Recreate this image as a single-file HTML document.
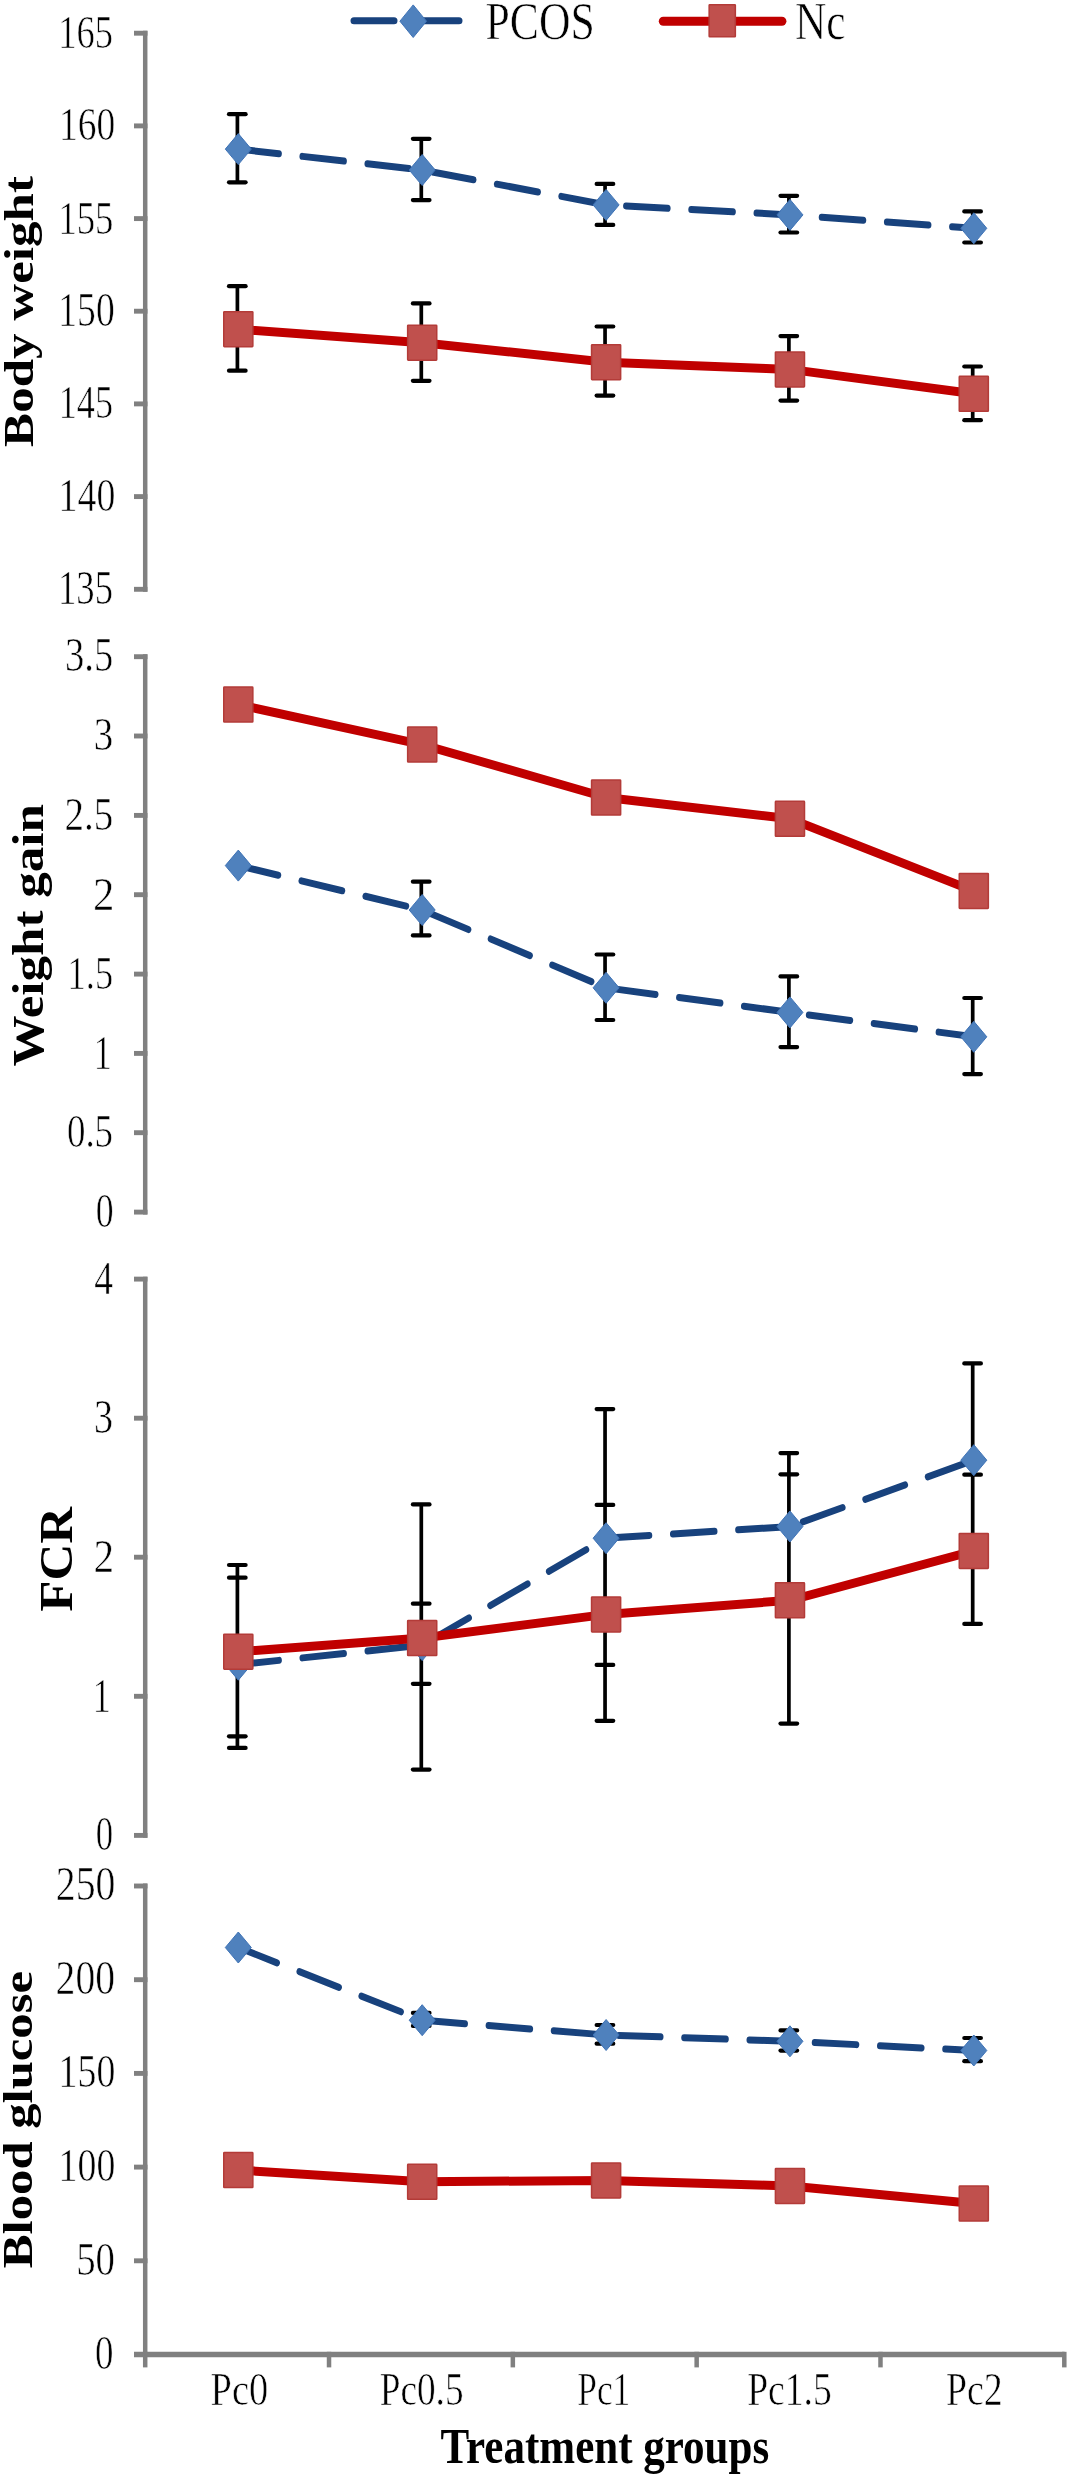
<!DOCTYPE html><html><head><meta charset="utf-8"><style>html,body{margin:0;padding:0;background:#fff;}svg{display:block;filter:blur(0.4px);}text{font-family:"Liberation Serif",serif;fill:#000;}text.t{stroke:#fff;stroke-width:0.5px;}</style></head><body>
<svg width="1071" height="2481" viewBox="0 0 1071 2481">
<rect width="1071" height="2481" fill="#fff"/>
<g stroke="#808080" stroke-width="4.5" stroke-linecap="butt" fill="none"><line x1="145.2" y1="30.75" x2="145.2" y2="591.75"/><line x1="134" y1="33.2" x2="147.45" y2="33.2" stroke-width="4.9"/><line x1="134" y1="125.9" x2="147.45" y2="125.9" stroke-width="4.9"/><line x1="134" y1="218.6" x2="147.45" y2="218.6" stroke-width="4.9"/><line x1="134" y1="311.2" x2="147.45" y2="311.2" stroke-width="4.9"/><line x1="134" y1="403.9" x2="147.45" y2="403.9" stroke-width="4.9"/><line x1="134" y1="496.6" x2="147.45" y2="496.6" stroke-width="4.9"/><line x1="134" y1="589.3" x2="147.45" y2="589.3" stroke-width="4.9"/><line x1="145.2" y1="654.25" x2="145.2" y2="1214.55"/><line x1="134" y1="656.7" x2="147.45" y2="656.7" stroke-width="4.9"/><line x1="134" y1="736" x2="147.45" y2="736" stroke-width="4.9"/><line x1="134" y1="815.4" x2="147.45" y2="815.4" stroke-width="4.9"/><line x1="134" y1="894.7" x2="147.45" y2="894.7" stroke-width="4.9"/><line x1="134" y1="974.1" x2="147.45" y2="974.1" stroke-width="4.9"/><line x1="134" y1="1053.4" x2="147.45" y2="1053.4" stroke-width="4.9"/><line x1="134" y1="1132.7" x2="147.45" y2="1132.7" stroke-width="4.9"/><line x1="134" y1="1212.1" x2="147.45" y2="1212.1" stroke-width="4.9"/><line x1="145.2" y1="1276.65" x2="145.2" y2="1837.85"/><line x1="134" y1="1279.1" x2="147.45" y2="1279.1" stroke-width="4.9"/><line x1="134" y1="1418.2" x2="147.45" y2="1418.2" stroke-width="4.9"/><line x1="134" y1="1557.2" x2="147.45" y2="1557.2" stroke-width="4.9"/><line x1="134" y1="1696.3" x2="147.45" y2="1696.3" stroke-width="4.9"/><line x1="134" y1="1835.4" x2="147.45" y2="1835.4" stroke-width="4.9"/><line x1="145.2" y1="1883.55" x2="145.2" y2="2356.95"/><line x1="134" y1="1886" x2="147.45" y2="1886" stroke-width="4.9"/><line x1="134" y1="1979.7" x2="147.45" y2="1979.7" stroke-width="4.9"/><line x1="134" y1="2073.4" x2="147.45" y2="2073.4" stroke-width="4.9"/><line x1="134" y1="2167.1" x2="147.45" y2="2167.1" stroke-width="4.9"/><line x1="134" y1="2260.8" x2="147.45" y2="2260.8" stroke-width="4.9"/><line x1="134" y1="2354.5" x2="147.45" y2="2354.5" stroke-width="4.9"/><line x1="134" y1="2354.4" x2="1064.6" y2="2354.4" stroke-width="5.5"/><line x1="145.2" y1="2351.8" x2="145.2" y2="2367.4"/><line x1="329.02" y1="2351.8" x2="329.02" y2="2367.4"/><line x1="512.84" y1="2351.8" x2="512.84" y2="2367.4"/><line x1="696.66" y1="2351.8" x2="696.66" y2="2367.4"/><line x1="880.48" y1="2351.8" x2="880.48" y2="2367.4"/><line x1="1064.3" y1="2351.8" x2="1064.3" y2="2367.4"/></g>
<g stroke="#000" stroke-width="3.7" fill="none"><line x1="237.4" y1="114.2" x2="237.4" y2="182.3"/><line x1="237.4" y1="286.2" x2="237.4" y2="370.7"/><line x1="229" y1="114.2" x2="245.6" y2="114.2" stroke-width="4.2" stroke-linecap="round"/><line x1="229" y1="182.3" x2="245.6" y2="182.3" stroke-width="4.2" stroke-linecap="round"/><line x1="229" y1="286.2" x2="245.6" y2="286.2" stroke-width="4.2" stroke-linecap="round"/><line x1="229" y1="370.7" x2="245.6" y2="370.7" stroke-width="4.2" stroke-linecap="round"/><line x1="421.3" y1="138.8" x2="421.3" y2="200.1"/><line x1="421.3" y1="303.4" x2="421.3" y2="380.8"/><line x1="412.9" y1="138.8" x2="429.5" y2="138.8" stroke-width="4.2" stroke-linecap="round"/><line x1="412.9" y1="200.1" x2="429.5" y2="200.1" stroke-width="4.2" stroke-linecap="round"/><line x1="412.9" y1="303.4" x2="429.5" y2="303.4" stroke-width="4.2" stroke-linecap="round"/><line x1="412.9" y1="380.8" x2="429.5" y2="380.8" stroke-width="4.2" stroke-linecap="round"/><line x1="605.05" y1="183.9" x2="605.05" y2="224.9"/><line x1="605.05" y1="326.5" x2="605.05" y2="395.6"/><line x1="596.65" y1="183.9" x2="613.25" y2="183.9" stroke-width="4.2" stroke-linecap="round"/><line x1="596.65" y1="224.9" x2="613.25" y2="224.9" stroke-width="4.2" stroke-linecap="round"/><line x1="596.65" y1="326.5" x2="613.25" y2="326.5" stroke-width="4.2" stroke-linecap="round"/><line x1="596.65" y1="395.6" x2="613.25" y2="395.6" stroke-width="4.2" stroke-linecap="round"/><line x1="788.9" y1="195.8" x2="788.9" y2="232.5"/><line x1="788.9" y1="336.1" x2="788.9" y2="400.6"/><line x1="780.5" y1="195.8" x2="797.1" y2="195.8" stroke-width="4.2" stroke-linecap="round"/><line x1="780.5" y1="232.5" x2="797.1" y2="232.5" stroke-width="4.2" stroke-linecap="round"/><line x1="780.5" y1="336.1" x2="797.1" y2="336.1" stroke-width="4.2" stroke-linecap="round"/><line x1="780.5" y1="400.6" x2="797.1" y2="400.6" stroke-width="4.2" stroke-linecap="round"/><line x1="972.7" y1="211.4" x2="972.7" y2="242.5"/><line x1="972.7" y1="366.5" x2="972.7" y2="420.2"/><line x1="964.3" y1="211.4" x2="980.9" y2="211.4" stroke-width="4.2" stroke-linecap="round"/><line x1="964.3" y1="242.5" x2="980.9" y2="242.5" stroke-width="4.2" stroke-linecap="round"/><line x1="964.3" y1="366.5" x2="980.9" y2="366.5" stroke-width="4.2" stroke-linecap="round"/><line x1="964.3" y1="420.2" x2="980.9" y2="420.2" stroke-width="4.2" stroke-linecap="round"/><line x1="421.3" y1="881.7" x2="421.3" y2="935.4"/><line x1="412.9" y1="881.7" x2="429.5" y2="881.7" stroke-width="4.2" stroke-linecap="round"/><line x1="412.9" y1="935.4" x2="429.5" y2="935.4" stroke-width="4.2" stroke-linecap="round"/><line x1="605.05" y1="954.5" x2="605.05" y2="1020"/><line x1="596.65" y1="954.5" x2="613.25" y2="954.5" stroke-width="4.2" stroke-linecap="round"/><line x1="596.65" y1="1020" x2="613.25" y2="1020" stroke-width="4.2" stroke-linecap="round"/><line x1="788.9" y1="976.4" x2="788.9" y2="1047.1"/><line x1="780.5" y1="976.4" x2="797.1" y2="976.4" stroke-width="4.2" stroke-linecap="round"/><line x1="780.5" y1="1047.1" x2="797.1" y2="1047.1" stroke-width="4.2" stroke-linecap="round"/><line x1="972.7" y1="998" x2="972.7" y2="1074.1"/><line x1="964.3" y1="998" x2="980.9" y2="998" stroke-width="4.2" stroke-linecap="round"/><line x1="964.3" y1="1074.1" x2="980.9" y2="1074.1" stroke-width="4.2" stroke-linecap="round"/><line x1="237.4" y1="1565" x2="237.4" y2="1747.9"/><line x1="229" y1="1565" x2="245.6" y2="1565" stroke-width="4.2" stroke-linecap="round"/><line x1="229" y1="1577.7" x2="245.6" y2="1577.7" stroke-width="4.2" stroke-linecap="round"/><line x1="229" y1="1736.3" x2="245.6" y2="1736.3" stroke-width="4.2" stroke-linecap="round"/><line x1="229" y1="1747.9" x2="245.6" y2="1747.9" stroke-width="4.2" stroke-linecap="round"/><line x1="421.3" y1="1504.4" x2="421.3" y2="1769.6"/><line x1="412.9" y1="1504.4" x2="429.5" y2="1504.4" stroke-width="4.2" stroke-linecap="round"/><line x1="412.9" y1="1603.7" x2="429.5" y2="1603.7" stroke-width="4.2" stroke-linecap="round"/><line x1="412.9" y1="1683.8" x2="429.5" y2="1683.8" stroke-width="4.2" stroke-linecap="round"/><line x1="412.9" y1="1769.6" x2="429.5" y2="1769.6" stroke-width="4.2" stroke-linecap="round"/><line x1="605.05" y1="1409.1" x2="605.05" y2="1720.8"/><line x1="596.65" y1="1409.1" x2="613.25" y2="1409.1" stroke-width="4.2" stroke-linecap="round"/><line x1="596.65" y1="1504.9" x2="613.25" y2="1504.9" stroke-width="4.2" stroke-linecap="round"/><line x1="596.65" y1="1664.9" x2="613.25" y2="1664.9" stroke-width="4.2" stroke-linecap="round"/><line x1="596.65" y1="1720.8" x2="613.25" y2="1720.8" stroke-width="4.2" stroke-linecap="round"/><line x1="788.9" y1="1453.1" x2="788.9" y2="1723.6"/><line x1="780.5" y1="1453.1" x2="797.1" y2="1453.1" stroke-width="4.2" stroke-linecap="round"/><line x1="780.5" y1="1474.3" x2="797.1" y2="1474.3" stroke-width="4.2" stroke-linecap="round"/><line x1="780.5" y1="1723.6" x2="797.1" y2="1723.6" stroke-width="4.2" stroke-linecap="round"/><line x1="780.5" y1="1599.9" x2="797.1" y2="1599.9" stroke-width="4.2" stroke-linecap="round"/><line x1="972.7" y1="1363.4" x2="972.7" y2="1623.9"/><line x1="964.3" y1="1363.4" x2="980.9" y2="1363.4" stroke-width="4.2" stroke-linecap="round"/><line x1="964.3" y1="1474.7" x2="980.9" y2="1474.7" stroke-width="4.2" stroke-linecap="round"/><line x1="964.3" y1="1623.9" x2="980.9" y2="1623.9" stroke-width="4.2" stroke-linecap="round"/><line x1="964.3" y1="1557" x2="980.9" y2="1557" stroke-width="4.2" stroke-linecap="round"/><line x1="421.3" y1="2012.9" x2="421.3" y2="2025.9"/><line x1="412.9" y1="2012.9" x2="429.5" y2="2012.9" stroke-width="4.2" stroke-linecap="round"/><line x1="412.9" y1="2025.9" x2="429.5" y2="2025.9" stroke-width="4.2" stroke-linecap="round"/><line x1="605.05" y1="2025" x2="605.05" y2="2043.7"/><line x1="596.65" y1="2025" x2="613.25" y2="2025" stroke-width="4.2" stroke-linecap="round"/><line x1="596.65" y1="2043.7" x2="613.25" y2="2043.7" stroke-width="4.2" stroke-linecap="round"/><line x1="788.9" y1="2030.4" x2="788.9" y2="2050.6"/><line x1="780.5" y1="2030.4" x2="797.1" y2="2030.4" stroke-width="4.2" stroke-linecap="round"/><line x1="780.5" y1="2050.6" x2="797.1" y2="2050.6" stroke-width="4.2" stroke-linecap="round"/><line x1="972.7" y1="2038" x2="972.7" y2="2061.2"/><line x1="964.3" y1="2038" x2="980.9" y2="2038" stroke-width="4.2" stroke-linecap="round"/><line x1="964.3" y1="2061.2" x2="980.9" y2="2061.2" stroke-width="4.2" stroke-linecap="round"/></g>
<g transform="scale(1 1.19)" fill="none" stroke-linecap="round" stroke-linejoin="round"><polyline points="238.3,125.294 422.2,142.857 606.1,172.185 789.95,180.588 973.8,191.849" stroke="#18427D" stroke-width="5.882" stroke-dasharray="41.7 23.6" stroke-dashoffset="0.9"/><polyline points="238.3,727.395 422.2,764.706 606.1,830.084 789.95,850.756 973.8,871.261" stroke="#18427D" stroke-width="5.882" stroke-dasharray="41.7 23.6" stroke-dashoffset="0.9"/><polyline points="238.3,1398.908 422.2,1382.437 606.1,1292.605 789.95,1282.773 973.8,1227.059" stroke="#18427D" stroke-width="5.882" stroke-dasharray="41.7 23.6" stroke-dashoffset="0.9"/><polyline points="238.3,1636.555 422.2,1697.647 606.1,1710.084 789.95,1715.378 973.8,1723.109" stroke="#18427D" stroke-width="5.882" stroke-dasharray="41.7 23.6" stroke-dashoffset="0.9"/><polyline points="238.3,276.639 422.2,287.983 606.1,304.370 789.95,310.420 973.8,330.924" stroke="#C00000" stroke-width="7.563"/><polyline points="238.3,592.101 422.2,625.714 606.1,670.168 789.95,688.067 973.8,748.655" stroke="#C00000" stroke-width="7.563"/><polyline points="238.3,1387.983 422.2,1376.471 606.1,1356.639 789.95,1344.790 973.8,1303.277" stroke="#C00000" stroke-width="7.563"/><polyline points="238.3,1823.613 422.2,1833.445 606.1,1832.269 789.95,1836.891 973.8,1851.765" stroke="#C00000" stroke-width="7.563"/></g>
<g fill="#4F81BD" stroke="#3F73B6" stroke-width="1" stroke-linejoin="round"><path d="M238.3 133.6L251.3 149.1L238.3 164.6L225.3 149.1Z"/><path d="M422.2 154.5L435.2 170L422.2 185.5L409.2 170Z"/><path d="M606.1 189.4L619.1 204.9L606.1 220.4L593.1 204.9Z"/><path d="M789.95 199.4L802.95 214.9L789.95 230.4L776.95 214.9Z"/><path d="M973.8 212.8L986.8 228.3L973.8 243.8L960.8 228.3Z"/><path d="M238.3 850.1L251.3 865.6L238.3 881.1L225.3 865.6Z"/><path d="M422.2 894.5L435.2 910L422.2 925.5L409.2 910Z"/><path d="M606.1 972.3L619.1 987.8L606.1 1003.3L593.1 987.8Z"/><path d="M789.95 996.9L802.95 1012.4L789.95 1027.9L776.95 1012.4Z"/><path d="M973.8 1021.3L986.8 1036.8L973.8 1052.3L960.8 1036.8Z"/><path d="M238.3 1649.2L251.3 1664.7L238.3 1680.2L225.3 1664.7Z"/><path d="M422.2 1629.6L435.2 1645.1L422.2 1660.6L409.2 1645.1Z"/><path d="M606.1 1522.7L619.1 1538.2L606.1 1553.7L593.1 1538.2Z"/><path d="M789.95 1511L802.95 1526.5L789.95 1542L776.95 1526.5Z"/><path d="M973.8 1444.7L986.8 1460.2L973.8 1475.7L960.8 1460.2Z"/><path d="M238.3 1932L251.3 1947.5L238.3 1963L225.3 1947.5Z"/><path d="M422.2 2004.7L435.2 2020.2L422.2 2035.7L409.2 2020.2Z"/><path d="M606.1 2019.5L619.1 2035L606.1 2050.5L593.1 2035Z"/><path d="M789.95 2025.8L802.95 2041.3L789.95 2056.8L776.95 2041.3Z"/><path d="M973.8 2035L986.8 2050.5L973.8 2066L960.8 2050.5Z"/></g>
<g fill="#C0504D" stroke="#B33B38" stroke-width="1.5"><rect x="223.75" y="311.7" width="29.1" height="35" rx="0.6"/><rect x="407.65" y="325.2" width="29.1" height="35" rx="0.6"/><rect x="591.55" y="344.7" width="29.1" height="35" rx="0.6"/><rect x="775.4" y="351.9" width="29.1" height="35" rx="0.6"/><rect x="959.25" y="376.3" width="29.1" height="35" rx="0.6"/><rect x="223.75" y="687.1" width="29.1" height="35" rx="0.6"/><rect x="407.65" y="727.1" width="29.1" height="35" rx="0.6"/><rect x="591.55" y="780" width="29.1" height="35" rx="0.6"/><rect x="775.4" y="801.3" width="29.1" height="35" rx="0.6"/><rect x="959.25" y="873.4" width="29.1" height="35" rx="0.6"/><rect x="223.75" y="1634.2" width="29.1" height="35" rx="0.6"/><rect x="407.65" y="1620.5" width="29.1" height="35" rx="0.6"/><rect x="591.55" y="1596.9" width="29.1" height="35" rx="0.6"/><rect x="775.4" y="1582.8" width="29.1" height="35" rx="0.6"/><rect x="959.25" y="1533.4" width="29.1" height="35" rx="0.6"/><rect x="223.75" y="2152.6" width="29.1" height="35" rx="0.6"/><rect x="407.65" y="2164.3" width="29.1" height="35" rx="0.6"/><rect x="591.55" y="2162.9" width="29.1" height="35" rx="0.6"/><rect x="775.4" y="2168.4" width="29.1" height="35" rx="0.6"/><rect x="959.25" y="2186.1" width="29.1" height="35" rx="0.6"/></g>
<g><text transform="translate(58.21 47.73) scale(1 1.2913)" font-size="36.5" class="t">165</text><text transform="translate(59.02 140.43) scale(1 1.2475)" font-size="37.53" class="t">160</text><text transform="translate(58.39 233.53) scale(1 1.2844)" font-size="36.72" class="t">155</text><text transform="translate(58.31 326.12) scale(1 1.2884)" font-size="37.6" class="t">150</text><text transform="translate(58.73 418.33) scale(1 1.3066)" font-size="36.21" class="t">145</text><text transform="translate(58.59 510.93) scale(1 1.2418)" font-size="37.82" class="t">140</text><text transform="translate(57.99 604.21) scale(1 1.3349)" font-size="36.65" class="t">135</text><text transform="translate(64.97 671.37) scale(1 1.2573)" font-size="38.62" class="t">3.5</text><text transform="translate(93.75 750.33) scale(1 1.2115)" font-size="39.03" class="t">3</text><text transform="translate(64.44 829.5) scale(1 1.1866)" font-size="39.06" class="t">2.5</text><text transform="translate(92.98 909.6) scale(1 1.0950)" font-size="42.73" class="t">2</text><text transform="translate(67.62 988.8) scale(1 1.2921)" font-size="36.35" class="t">1.5</text><text transform="translate(93.86 1068.8) scale(1 1.3342)" font-size="36" class="t">1</text><text transform="translate(66.92 1147.3) scale(1 1.2623)" font-size="36.93" class="t">0.5</text><text transform="translate(95.76 1227.02) scale(1 1.3297)" font-size="35.76" class="t">0</text><text transform="translate(94.25 1294) scale(1 1.2447)" font-size="37.63" class="t">4</text><text transform="translate(93.89 1433.32) scale(1 1.2541)" font-size="38.06" class="t">3</text><text transform="translate(93.45 1572.3) scale(1 1.1236)" font-size="41.24" class="t">2</text><text transform="translate(92.76 1711.6) scale(1 1.3215)" font-size="36" class="t">1</text><text transform="translate(95.69 1850.31) scale(1 1.4167)" font-size="34.82" class="t">0</text><text transform="translate(55.81 1900.22) scale(1 1.2122)" font-size="39.72" class="t">250</text><text transform="translate(55.62 1994.31) scale(1 1.2428)" font-size="39.58" class="t">200</text><text transform="translate(58.59 2087.23) scale(1 1.2301)" font-size="37.82" class="t">150</text><text transform="translate(58.59 2181.34) scale(1 1.2261)" font-size="37.82" class="t">100</text><text transform="translate(76.17 2275.03) scale(1 1.2109)" font-size="38.78" class="t">50</text><text transform="translate(95.01 2368.91) scale(1 1.3395)" font-size="36.94" class="t">0</text></g>
<g><text transform="translate(210.54 2405.03) scale(1 1.2154)" font-size="38.4" class="t">Pc0</text><text transform="translate(379.67 2404.81) scale(1 1.2420)" font-size="37.3" class="t">Pc0.5</text><text transform="translate(577.23 2405.03) scale(1 1.3282)" font-size="35.4" class="t">Pc1</text><text transform="translate(747.17 2404.8) scale(1 1.2406)" font-size="37.62" class="t">Pc1.5</text><text transform="translate(945.96 2405.03) scale(1 1.2387)" font-size="37.81" class="t">Pc2</text></g>
<text transform="translate(440.55 2463.34) scale(1 1.1900)" font-size="43.03" font-weight="bold">Treatment groups</text>
<text transform="translate(32.65 446.89) rotate(-90) scale(1 0.8328)" font-size="51.05" font-weight="bold">Body weight</text>
<text transform="translate(42.75 1066.57) rotate(-90) scale(1 0.8495)" font-size="51.08" font-weight="bold">Weight gain</text>
<text transform="translate(72.04 1611.69) rotate(-90) scale(1 0.8913)" font-size="51.05" font-weight="bold">FCR</text>
<text transform="translate(32.44 2268.19) rotate(-90) scale(1 0.8300)" font-size="50.69" font-weight="bold">Blood glucose</text>
<line x1="354" y1="20.8" x2="459" y2="20.8" stroke="#18427D" stroke-width="7" stroke-linecap="round" stroke-dasharray="40 25.3" stroke-dashoffset="0"/>
<g fill="#4F81BD" stroke="#3F73B6" stroke-width="1" stroke-linejoin="round"><path d="M413.2 4.9L426.5 21.2L413.2 37.5L399.9 21.2Z"/></g>
<line x1="663.3" y1="21.2" x2="781.9" y2="21.2" stroke="#C00000" stroke-width="9" stroke-linecap="round"/>
<g fill="#C0504D" stroke="#B33B38" stroke-width="1.5"><rect x="709.15" y="4.75" width="26.2" height="32.1" rx="0.6"/></g>
<text transform="translate(485.5 38.86) scale(1 1.2264)" font-size="43.65" class="t">PCOS</text>
<text transform="translate(794.91 38.66) scale(1 1.2326)" font-size="43.43" class="t">Nc</text>
</svg></body></html>
